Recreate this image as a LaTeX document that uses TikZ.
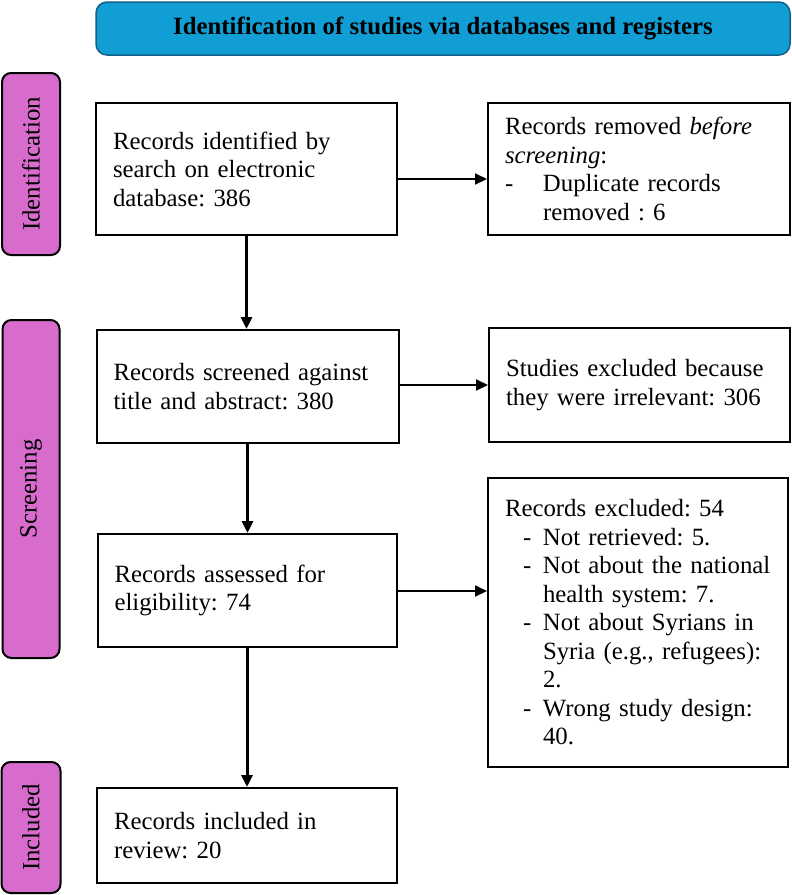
\documentclass[tikz,border=0pt]{standalone}
\usepackage{fontspec}
\setmainfont{Liberation Serif}
\usetikzlibrary{arrows.meta}
\definecolor{phasepink}{RGB}{216,108,204}
\definecolor{bannerblue}{RGB}{16,158,213}
\definecolor{bannerline}{RGB}{20,95,135}
\newcommand{\dashitem}[1]{\hspace*{18pt}\makebox[20pt][l]{-}#1}
\newcommand{\contitem}[1]{\hspace*{38pt}#1}
\begin{document}
\begin{tikzpicture}[x=1pt,y=-1pt,
  every node/.style={font=\fontsize{24.8pt}{28.5pt}\selectfont\frenchspacing},
  box/.style={draw=black, line width=2pt, fill=white, inner xsep=17pt, inner ysep=0pt, align=left},
  phase/.style={draw=black, line width=2pt, fill=phasepink, rounded corners=9pt, rotate=90, inner sep=0pt},
  banner/.style={draw=bannerline, line width=1.5pt, fill=bannerblue, rounded corners=11pt, inner sep=0pt},
  arr/.style={line width=2pt, -{Triangle[length=12pt,width=11pt]}},
  varr/.style={line width=3pt, -{Triangle[length=12pt,width=11pt]}}
]
\useasboundingbox (0,0) rectangle (792,895);

% banner
\node[banner, minimum width=694pt, minimum height=53pt] (ban) at (443,28.5)
  {\textbf{Identification of studies via databases and registers}};

% phase labels
\node[phase, minimum width=182pt, minimum height=58pt] (pid) at (31,164) {Identification};
\node[phase, minimum width=338pt, minimum height=57pt] (psc) at (31,489) {Screening};
\node[phase, minimum width=131pt, minimum height=59pt] (pin) at (31,827.5) {Included};

% main column
\node[box, minimum width=301pt, minimum height=132pt, text width=267pt] (b1) at (246.5,169)
  {Records identified by\\search on electronic\\database: 386};
\node[box, minimum width=302pt, minimum height=113pt, text width=268pt] (b2) at (247.5,386.5)
  {Records screened against\\title and abstract: 380};
\node[box, minimum width=299pt, minimum height=113pt, text width=265pt] (b3) at (247,590.5)
  {Records assessed for\\eligibility: 74};
\node[box, minimum width=300pt, minimum height=95pt, text width=266pt] (b4) at (247,835.5)
  {Records included in\\review: 20};

% right column
\node[box, minimum width=302pt, minimum height=132pt, text width=268pt] (r1) at (639,169)
  {Records removed \textit{before}\\\textit{screening}:\\\makebox[38pt][l]{-}Duplicate records\\\contitem{removed : 6}};
\node[box, minimum width=301pt, minimum height=114pt, text width=267pt] (r2) at (639.5,385)
  {Studies excluded because\\they were irrelevant: 306};
\node[box, minimum width=300pt, minimum height=289pt, text width=266pt] (r3) at (638,622.5)
  {Records excluded: 54\\
   \dashitem{Not retrieved: 5.}\\
   \dashitem{Not about the national}\\
   \contitem{health system: 7.}\\
   \dashitem{Not about Syrians in}\\
   \contitem{Syria (e.g., refugees):}\\
   \contitem{2.}\\
   \dashitem{Wrong study design:}\\
   \contitem{40.}};

% coordinates for horizontal arrows
\coordinate (h1) at (0,179);
\coordinate (h2) at (0,385);
\coordinate (h3) at (0,591);

% arrows
\draw[arr] (b1.east |- h1) -- (r1.west |- h1);
\draw[arr] (b2.east |- h2) -- (r2.west |- h2);
\draw[arr] (b3.east |- h3) -- (r3.west |- h3);
\draw[varr] (b1.south) -- (b1.south |- b2.north);
\draw[varr] (b2.south) -- (b2.south |- b3.north);
\draw[varr] (b3.south) -- (b3.south |- b4.north);
\end{tikzpicture}
\end{document}
